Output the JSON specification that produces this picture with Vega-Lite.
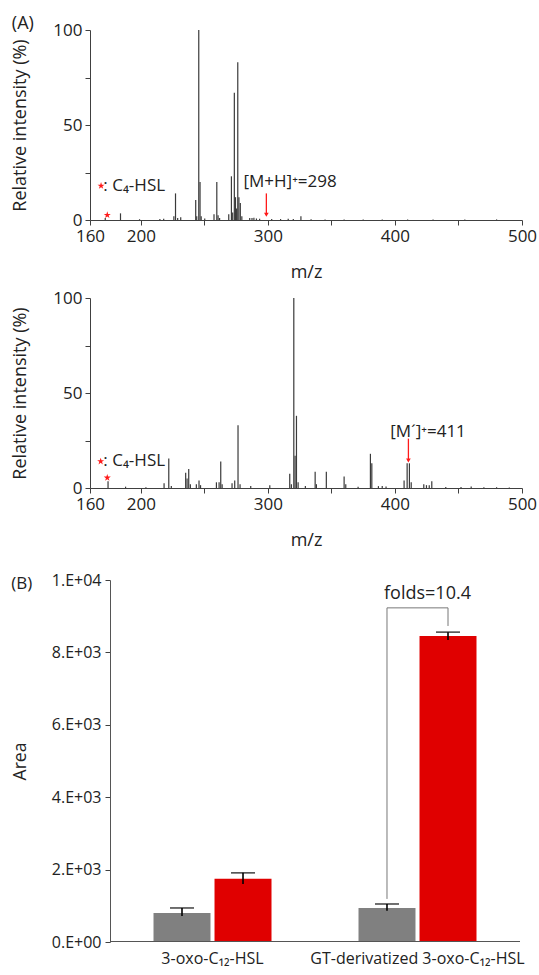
{
  "$schema": "https://vega.github.io/schema/vega-lite/v6.json",
  "padding": {"left": 11, "top": 15, "right": 0, "bottom": 0},
  "config": {
    "font": "Open Sans",
    "view": {"stroke": null},
    "axis": {"grid": false, "domainColor": "#404040", "tickColor": "#404040", "labelColor": "#222222", "titleColor": "#222222", "titleFontWeight": "normal", "labelFontSize": 17, "titleFontSize": 18, "tickSize": 5, "labelPadding": 3},
    "text": {"font": "Open Sans", "fontSize": 17, "color": "#222222"},
    "title": {"font": "Open Sans", "fontSize": 18, "fontWeight": "normal", "color": "#222222"}
  },
  "datasets": {
    "spec1": [
      {"mz": 172, "int": 1.0}, {"mz": 184, "int": 3.5}, {"mz": 199, "int": 0.4}, {"mz": 215, "int": 0.5}, {"mz": 218, "int": 0.6},
      {"mz": 226, "int": 2}, {"mz": 227.3, "int": 14}, {"mz": 229, "int": 1.0}, {"mz": 231.4, "int": 1.5},
      {"mz": 243.2, "int": 10.5}, {"mz": 244, "int": 2}, {"mz": 245.6, "int": 100}, {"mz": 246.6, "int": 20}, {"mz": 247.5, "int": 2}, {"mz": 250.3, "int": 0.8},
      {"mz": 257.6, "int": 3}, {"mz": 259.8, "int": 20}, {"mz": 260.8, "int": 2.5}, {"mz": 262, "int": 1},
      {"mz": 269.2, "int": 3}, {"mz": 271.3, "int": 23}, {"mz": 272.3, "int": 4}, {"mz": 273.6, "int": 67}, {"mz": 274.5, "int": 12}, {"mz": 275.4, "int": 6},
      {"mz": 276.3, "int": 83}, {"mz": 277.2, "int": 12}, {"mz": 278.3, "int": 9}, {"mz": 279.5, "int": 2},
      {"mz": 285.7, "int": 1}, {"mz": 287.5, "int": 1}, {"mz": 289, "int": 1.2}, {"mz": 291, "int": 0.8}, {"mz": 293.5, "int": 0.7},
      {"mz": 303, "int": 0.5}, {"mz": 310, "int": 0.5}, {"mz": 316, "int": 0.6}, {"mz": 320, "int": 0.5}, {"mz": 326, "int": 2},
      {"mz": 334, "int": 0.4}, {"mz": 345, "int": 0.3}, {"mz": 360, "int": 0.3}, {"mz": 375, "int": 0.3}, {"mz": 390, "int": 0.3},
      {"mz": 410, "int": 0.3}, {"mz": 430, "int": 0.3}, {"mz": 455, "int": 0.3}, {"mz": 480, "int": 0.3}
    ],
    "spec2": [
      {"mz": 174.2, "int": 3.5}, {"mz": 188, "int": 0.7}, {"mz": 204, "int": 0.4}, {"mz": 218.3, "int": 2.5}, {"mz": 222, "int": 15.5}, {"mz": 224, "int": 1},
      {"mz": 235.3, "int": 8}, {"mz": 236.4, "int": 5}, {"mz": 237.7, "int": 10}, {"mz": 239, "int": 2}, {"mz": 243.7, "int": 2}, {"mz": 245.8, "int": 4}, {"mz": 247, "int": 1.5},
      {"mz": 259.5, "int": 3}, {"mz": 261.6, "int": 3}, {"mz": 262.9, "int": 14}, {"mz": 264, "int": 2},
      {"mz": 271.8, "int": 2.5}, {"mz": 273.9, "int": 4}, {"mz": 276.5, "int": 33}, {"mz": 278.1, "int": 2}, {"mz": 286.5, "int": 1},
      {"mz": 301.5, "int": 1.5}, {"mz": 317.2, "int": 7.5}, {"mz": 318.5, "int": 2}, {"mz": 320.4, "int": 100}, {"mz": 321.4, "int": 17}, {"mz": 322.5, "int": 38}, {"mz": 323.8, "int": 3},
      {"mz": 329.5, "int": 1}, {"mz": 337.2, "int": 8.5}, {"mz": 338.2, "int": 2}, {"mz": 346, "int": 8.5}, {"mz": 360, "int": 6}, {"mz": 361.3, "int": 2}, {"mz": 371, "int": 0.6},
      {"mz": 380.7, "int": 18}, {"mz": 381.8, "int": 13}, {"mz": 387, "int": 1}, {"mz": 390, "int": 1}, {"mz": 393, "int": 0.8},
      {"mz": 407.2, "int": 4}, {"mz": 409.6, "int": 13}, {"mz": 411.4, "int": 13}, {"mz": 412.8, "int": 3},
      {"mz": 422.7, "int": 2}, {"mz": 424.8, "int": 1.5}, {"mz": 427, "int": 1.5}, {"mz": 429, "int": 3.5},
      {"mz": 440, "int": 0.5}, {"mz": 452, "int": 0.5}, {"mz": 460, "int": 0.8}, {"mz": 470, "int": 0.4}, {"mz": 480, "int": 0.4}, {"mz": 490, "int": 0.3}
    ],
    "arrow1": [{"mz": 298.8, "int": 14, "tip": 2.8}],
    "arrow2": [{"mz": 410.6, "int": 26, "tip": 14.5}],
    "stars1": [{"mz": 168.7, "int": 18}, {"mz": 173.6, "int": 2.6}],
    "stars2": [{"mz": 168.4, "int": 14}, {"mz": 173.6, "int": 5.4}],
    "labels1": [{"mz": 194.8, "int": 18, "label": ": C₄-HSL"}, {"mz": 317.5, "int": 20, "label": "[M+H]⁺=298"}],
    "labels2": [{"mz": 194.8, "int": 14, "label": ": C₄-HSL"}, {"mz": 426, "int": 29.5, "label": "[M´]⁺=411"}],
    "bars": [
      {"compound": "3-oxo-C₁₂-HSL", "sample": "control", "mean": 800, "lo": 720, "hi": 940},
      {"compound": "3-oxo-C₁₂-HSL", "sample": "test", "mean": 1750, "lo": 1600, "hi": 1910},
      {"compound": "GT-derivatized 3-oxo-C₁₂-HSL", "sample": "control", "mean": 940, "lo": 860, "hi": 1050},
      {"compound": "GT-derivatized 3-oxo-C₁₂-HSL", "sample": "test", "mean": 8450, "lo": 8340, "hi": 8560}
    ],
    "bracket": [
      {"compound": "GT-derivatized 3-oxo-C₁₂-HSL", "sample": "control", "y": 1190, "step": 1},
      {"compound": "GT-derivatized 3-oxo-C₁₂-HSL", "sample": "control", "y": 9230, "step": 2},
      {"compound": "GT-derivatized 3-oxo-C₁₂-HSL", "sample": "test", "y": 9230, "step": 3},
      {"compound": "GT-derivatized 3-oxo-C₁₂-HSL", "sample": "test", "y": 8730, "step": 4}
    ],
    "fold": [{"compound": "GT-derivatized 3-oxo-C₁₂-HSL", "y": 9620, "label": "folds=10.4"}]
  },
  "vconcat": [
    {
      "width": 432, "height": 190,
      "title": {"text": "(A)", "anchor": "start", "frame": "bounds", "offset": -12},
      "encoding": {
        "x": {"field": "mz", "type": "quantitative", "scale": {"domain": [160, 500], "nice": false, "zero": false}, "axis": {"title": "m/z", "values": [160, 200, 250, 300, 350, 400, 450, 500], "labelExpr": "datum.value % 100 == 50 ? '' : datum.label", "labelFlush": false, "labelOverlap": false, "titlePadding": 19}},
        "y": {"field": "int", "type": "quantitative", "scale": {"domain": [0, 100], "nice": false}, "axis": {"title": "Relative intensity (%)", "values": [0, 25, 50, 75, 100], "labelExpr": "datum.value % 50 == 0 ? datum.label : ''", "labelOverlap": false, "titlePadding": 23}}
      },
      "layer": [
        {"data": {"name": "spec1"}, "mark": {"type": "rule", "color": "#3a3a3a", "strokeWidth": 1.2}, "encoding": {"y2": {"datum": 0}}},
        {"data": {"name": "arrow1"}, "mark": {"type": "rule", "color": "#ff1a1a", "strokeWidth": 1.3}, "encoding": {"y2": {"field": "tip"}}},
        {"data": {"name": "arrow1"}, "mark": {"type": "point", "shape": "triangle-down", "filled": true, "color": "#ff1a1a", "size": 22, "opacity": 1}, "encoding": {"y": {"field": "tip", "type": "quantitative"}}},
        {"data": {"name": "stars1"}, "mark": {"type": "point", "shape": "M0,-1L0.2245,-0.309L0.951,-0.309L0.363,0.118L0.588,0.809L0,0.382L-0.588,0.809L-0.363,0.118L-0.951,-0.309L-0.2245,-0.309Z", "filled": true, "color": "#ff1a1a", "size": 55, "opacity": 1}, "encoding": {}},
        {"data": {"name": "labels1"}, "mark": {"type": "text", "baseline": "middle", "align": "center"}, "encoding": {"text": {"field": "label"}}}
      ]
    },
    {
      "width": 432, "height": 190,
      "encoding": {
        "x": {"field": "mz", "type": "quantitative", "scale": {"domain": [160, 500], "nice": false, "zero": false}, "axis": {"title": "m/z", "values": [160, 200, 250, 300, 350, 400, 450, 500], "labelExpr": "datum.value % 100 == 50 ? '' : datum.label", "labelFlush": false, "labelOverlap": false, "titlePadding": 19}},
        "y": {"field": "int", "type": "quantitative", "scale": {"domain": [0, 100], "nice": false}, "axis": {"title": "Relative intensity (%)", "values": [0, 25, 50, 75, 100], "labelExpr": "datum.value % 50 == 0 ? datum.label : ''", "labelOverlap": false, "titlePadding": 23}}
      },
      "layer": [
        {"data": {"name": "spec2"}, "mark": {"type": "rule", "color": "#3a3a3a", "strokeWidth": 1.2}, "encoding": {"y2": {"datum": 0}}},
        {"data": {"name": "arrow2"}, "mark": {"type": "rule", "color": "#ff1a1a", "strokeWidth": 1.3}, "encoding": {"y2": {"field": "tip"}}},
        {"data": {"name": "arrow2"}, "mark": {"type": "point", "shape": "triangle-down", "filled": true, "color": "#ff1a1a", "size": 22, "opacity": 1}, "encoding": {"y": {"field": "tip", "type": "quantitative"}}},
        {"data": {"name": "stars2"}, "mark": {"type": "point", "shape": "M0,-1L0.2245,-0.309L0.951,-0.309L0.363,0.118L0.588,0.809L0,0.382L-0.588,0.809L-0.363,0.118L-0.951,-0.309L-0.2245,-0.309Z", "filled": true, "color": "#ff1a1a", "size": 55, "opacity": 1}, "encoding": {}},
        {"data": {"name": "labels2"}, "mark": {"type": "text", "baseline": "middle", "align": "center"}, "encoding": {"text": {"field": "label"}}}
      ]
    },
    {
      "width": 430, "height": 362,
      "title": {"text": ["", "(B)"], "anchor": "start", "frame": "bounds", "offset": -21, "fontSize": 17, "lineHeight": 18},
      "encoding": {
        "x": {"field": "compound", "type": "nominal", "sort": ["3-oxo-C₁₂-HSL", "GT-derivatized 3-oxo-C₁₂-HSL"], "scale": {"paddingInner": 0, "paddingOuter": 0.0488, "align": 1}, "axis": {"title": null, "labelAngle": 0, "labelLimit": 0, "ticks": false, "domain": false, "labelFontSize": 16, "labelPadding": 8}}
      },
      "layer": [
        {"data": {"name": "bars"}, "mark": {"type": "bar"},
         "encoding": {
           "xOffset": {"field": "sample", "type": "nominal", "scale": {"domain": ["control", "test"], "paddingInner": 0.066, "paddingOuter": 0.713}},
           "y": {"field": "mean", "type": "quantitative", "scale": {"domain": [0, 10000], "nice": false}, "axis": {"title": "Area", "titleFontSize": 17.5, "offset": -20, "values": [0, 2000, 4000, 6000, 8000, 10000], "labelExpr": "datum.value == 0 ? '0.E+00' : datum.value >= 10000 ? '1.E+04' : (datum.value / 1000) + '.E+03'", "labelFontSize": 16, "labelPadding": 4, "titlePadding": 22, "domainColor": "#555555"}},
           "color": {"field": "sample", "type": "nominal", "scale": {"domain": ["control", "test"], "range": ["#808080", "#e00000"]}, "legend": null}
         }},
        {"data": {"name": "bars"}, "mark": {"type": "bar", "color": "#555555"},
         "encoding": {
           "y": {"datum": 0},
           "y2": {"datum": 30}
         }},
        {"data": {"name": "bars"}, "mark": {"type": "rule", "color": "#000000", "strokeWidth": 1.6},
         "encoding": {
           "xOffset": {"field": "sample", "type": "nominal"},
           "y": {"field": "lo", "type": "quantitative"},
           "y2": {"field": "hi"}
         }},
        {"data": {"name": "bars"}, "mark": {"type": "tick", "color": "#000000", "size": 24, "thickness": 1.6},
         "encoding": {
           "xOffset": {"field": "sample", "type": "nominal"},
           "y": {"field": "hi", "type": "quantitative"}
         }},
        {"data": {"name": "bracket"}, "mark": {"type": "line", "color": "#777777", "strokeWidth": 1},
         "encoding": {
           "xOffset": {"field": "sample", "type": "nominal"},
           "y": {"field": "y", "type": "quantitative"},
           "order": {"field": "step", "type": "quantitative"}
         }},
        {"data": {"name": "fold"}, "mark": {"type": "text", "baseline": "middle", "align": "center", "dx": 10, "fontSize": 18},
         "encoding": {
           "y": {"field": "y", "type": "quantitative"},
           "text": {"field": "label"}
         }}
      ]
    }
  ],
  "spacing": 8,
  "align": {"row": "none", "column": "all"}
}
